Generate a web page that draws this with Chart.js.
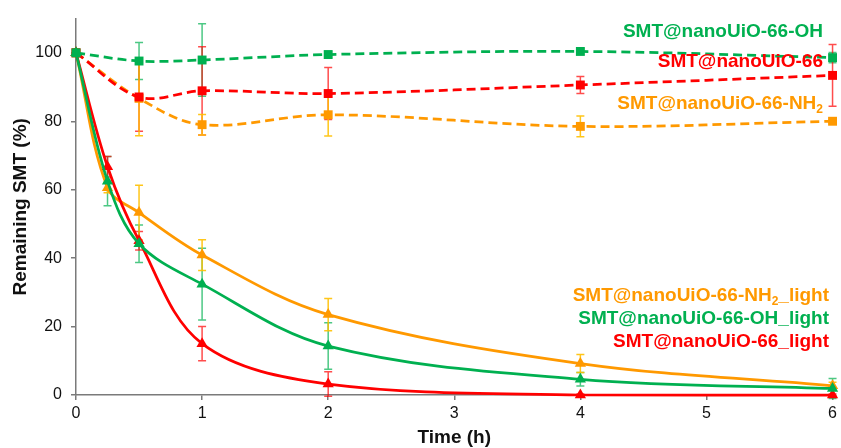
<!DOCTYPE html>
<html>
<head>
<meta charset="utf-8">
<script src="https://cdn.jsdelivr.net/npm/chart.js@4.4.1/dist/chart.umd.min.js"></script>
<style>
  html, body { margin: 0; padding: 0; background: #fff; }
  #wrap { width: 841px; height: 448px; }
</style>
</head>
<body>
<div id="wrap"><canvas id="releaseChart"></canvas></div>
<script>
// Sampling times (h)
const darkTimes = [0, 0.5, 1, 2, 4, 6];
const lightTimes = [0, 0.25, 0.5, 1, 2, 4, 6];

// Dark series: remaining SMT (%) and error
const ohDark = [100, 97.6, 97.9, 99.5, 100.4, 98.6];
const ohDarkErr = [0, 5.4, 10.6, 0.8, 0.8, 1.5];
const uioDark = [100, 87.1, 88.9, 88.1, 90.6, 93.4];
const uioDarkErr = [0, 10, 12.9, 7.6, 2.5, 9];
const nh2Dark = [100, 86.7, 79, 81.9, 78.5, 80];
const nh2DarkErr = [0, 10.9, 3, 6.2, 3, 0.5];

// Light series
const ohLight = [100, 62.5, 44.2, 32.4, 14.3, 4.6, 1.9];
const ohLightErr = [0, 7.2, 5.5, 10.5, 6.8, 2, 2.9];
const uioLight = [100, 66.7, 45.1, 15, 3.2, 0, 0];
const uioLightErr = [0, 3, 2.7, 5, 3.6, 0.3, 0.3];
const nh2Light = [100, 60.6, 53.3, 40.9, 23.5, 9.2, 2.7];
const nh2LightErr = [0, 1.5, 8, 4.5, 4.7, 2.6, 1];

const yTicks = [0, 20, 40, 60, 80, 100];

const GREEN = "#00B050";
const RED = "#FF0000";
const ORANGE = "#FF9900";
const AXIS = "#7a7a7a";

function pts(xs, ys) {
  return xs.map((x, i) => ({ x: x, y: ys[i] }));
}

function series(label, xs, ys, errs, color, barColor, dashed) {
  return {
    label: label,
    data: pts(xs, ys),
    errors: errs,
    barColor: barColor,
    borderColor: color,
    backgroundColor: color,
    borderWidth: 2.75,
    borderDash: dashed ? [9, 5] : [],
    pointStyle: dashed ? "rect" : "triangle",
    pointRadius: dashed ? 6.3 : 6.5,
    pointBorderWidth: 0,
    tension: 0.35,
    clip: false,
  };
}

// error bars drawn under the markers
const errorBars = {
  id: "errorBars",
  beforeDatasetsDraw(chart) {
    const ctx = chart.ctx;
    const yScale = chart.scales.y;
    ctx.save();
    chart.data.datasets.forEach((ds, di) => {
      const meta = chart.getDatasetMeta(di);
      ctx.strokeStyle = ds.barColor;
      ctx.lineWidth = 1.5;
      meta.data.forEach((pt, i) => {
        const e = ds.errors[i];
        if (!e) return;
        const v = ds.data[i].y;
        const top = yScale.getPixelForValue(v + e);
        const bot = yScale.getPixelForValue(v - e);
        ctx.beginPath();
        ctx.moveTo(pt.x, top);
        ctx.lineTo(pt.x, bot);
        ctx.moveTo(pt.x - 4, top);
        ctx.lineTo(pt.x + 4, top);
        ctx.moveTo(pt.x - 4, bot);
        ctx.lineTo(pt.x + 4, bot);
        ctx.stroke();
      });
    });
    ctx.restore();
  },
};

// series names written next to the curves
const seriesLabels = [
  { parts: [["SMT@nanoUiO-66-OH"]], color: GREEN, right: 823, y: 32 },
  { parts: [["SMT@nanoUiO-66"]], color: RED, right: 823, y: 62 },
  { parts: [["SMT@nanoUiO-66-NH"], ["2", true]], color: ORANGE, right: 823, y: 104 },
  { parts: [["SMT@nanoUiO-66-NH"], ["2", true], ["_light"]], color: ORANGE, right: 829, y: 296 },
  { parts: [["SMT@nanoUiO-66-OH_light"]], color: GREEN, right: 829, y: 319 },
  { parts: [["SMT@nanoUiO-66_light"]], color: RED, right: 829, y: 342 },
];

const labelPlugin = {
  id: "seriesLabels",
  afterDraw(chart) {
    const ctx = chart.ctx;
    ctx.save();
    ctx.textBaseline = "middle";
    ctx.textAlign = "left";
    const big = "bold 19px 'Liberation Sans', Arial, sans-serif";
    const small = "bold 12px 'Liberation Sans', Arial, sans-serif";
    seriesLabels.forEach((lab) => {
      let total = 0;
      lab.parts.forEach((p) => {
        ctx.font = p[1] ? small : big;
        total += ctx.measureText(p[0]).width;
      });
      let x = lab.right - total;
      ctx.fillStyle = lab.color;
      lab.parts.forEach((p) => {
        ctx.font = p[1] ? small : big;
        ctx.fillText(p[0], x, p[1] ? lab.y + 6 : lab.y);
        x += ctx.measureText(p[0]).width;
      });
    });
    ctx.restore();
  },
};

const ctx = document.getElementById("releaseChart").getContext("2d");

new Chart(ctx, {
  type: "line",
  data: {
    datasets: [
      series("SMT@nanoUiO-66-OH", darkTimes, ohDark, ohDarkErr, GREEN, "rgba(0,176,80,0.7)", true),
      series("SMT@nanoUiO-66-OH_light", lightTimes, ohLight, ohLightErr, GREEN, "rgba(0,176,80,0.7)", false),
      series("SMT@nanoUiO-66", darkTimes, uioDark, uioDarkErr, RED, "rgba(255,0,0,0.7)", true),
      series("SMT@nanoUiO-66_light", lightTimes, uioLight, uioLightErr, RED, "rgba(255,0,0,0.7)", false),
      series("SMT@nanoUiO-66-NH2", darkTimes, nh2Dark, nh2DarkErr, ORANGE, "rgba(255,192,0,0.9)", true),
      series("SMT@nanoUiO-66-NH2_light", lightTimes, nh2Light, nh2LightErr, ORANGE, "rgba(255,192,0,0.9)", false),
    ],
  },
  options: {
    responsive: true,
    maintainAspectRatio: false,
    animation: false,
    layout: { padding: { left: 0, right: 7, top: 15, bottom: 0 } },
    plugins: {
      legend: { display: false },
      tooltip: { enabled: false },
    },
    scales: {
      x: {
        type: "linear",
        min: 0,
        max: 6,
        afterFit(scale) { scale.height = 53; },
        ticks: {
          stepSize: 1,
          padding: 4,
          color: "#111",
          font: { family: "'Liberation Sans', Arial, sans-serif", size: 16 },
        },
        grid: { drawOnChartArea: false, drawTicks: true, tickLength: 5, color: AXIS, lineWidth: 1.5 },
        border: { color: AXIS, width: 1.5 },
        title: {
          display: true,
          text: "Time (h)",
          color: "#111",
          padding: { top: 0, bottom: 0.5 },
          font: { family: "'Liberation Sans', Arial, sans-serif", size: 19, weight: "bold", lineHeight: 1 },
        },
      },
      y: {
        min: 0,
        max: 110,
        afterFit(scale) { scale.width = 76; },
        afterBuildTicks(scale) {
          scale.ticks = yTicks.map((v) => ({ value: v }));
        },
        ticks: {
          padding: 9,
          color: "#111",
          font: { family: "'Liberation Sans', Arial, sans-serif", size: 16 },
        },
        grid: { drawOnChartArea: false, drawTicks: true, tickLength: 5, color: AXIS, lineWidth: 1.5 },
        border: { color: AXIS, width: 1.5 },
        title: {
          display: true,
          text: "Remaining SMT (%)",
          color: "#111",
          padding: { top: 11, bottom: 0 },
          font: { family: "'Liberation Sans', Arial, sans-serif", size: 19, weight: "bold", lineHeight: 1 },
        },
      },
    },
  },
  plugins: [errorBars, labelPlugin],
});
</script>
</body>
</html>
